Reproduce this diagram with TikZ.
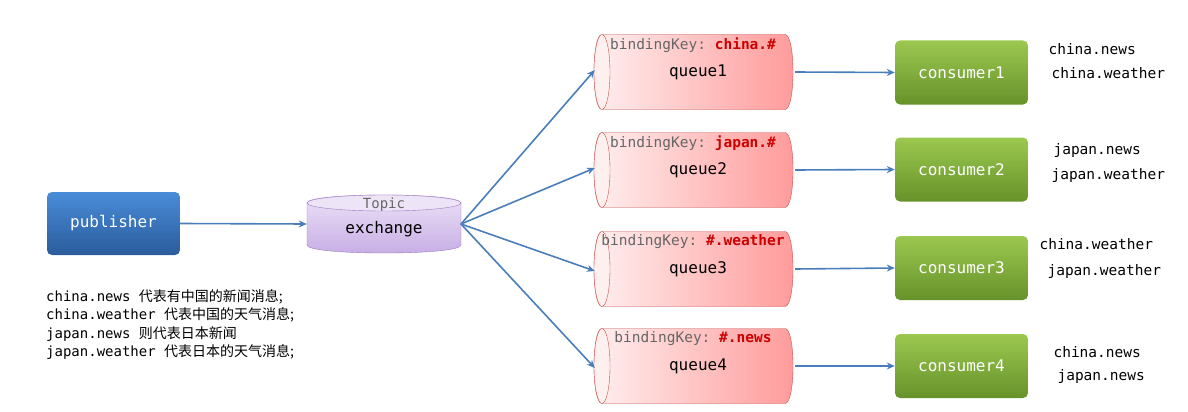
\documentclass[tikz,border=0pt]{standalone}
\usepackage{fontspec}
\setmonofont{DejaVu Sans Mono}
\newfontfamily\cjk{Noto Sans CJK SC}
\usetikzlibrary{arrows.meta}
\definecolor{qborder}{HTML}{C85050}
\definecolor{arr}{HTML}{4A7EBB}
\definecolor{keyred}{HTML}{CC0000}
\definecolor{qL}{HTML}{FFF0F0}
\definecolor{qR}{HTML}{FF9A9A}
\definecolor{gT}{HTML}{9CC850}
\definecolor{gB}{HTML}{66922A}
\definecolor{bT}{HTML}{4A8CD8}
\definecolor{bB}{HTML}{2A5C9C}
\definecolor{pT}{HTML}{EEE4F8}
\definecolor{pB}{HTML}{C6ACE4}
\definecolor{pD}{HTML}{9A7CC0}
\tikzset{
  qbox/.style={rectangle, minimum width=199pt, minimum height=75pt, inner sep=0pt},
  consumer/.style={rectangle, rounded corners=5pt, top color=gT, bottom color=gB,
    minimum width=133pt, minimum height=64pt, text=white, font=\ttfamily\fontsize{16}{18}\selectfont},
  key/.style={font=\ttfamily\fontsize{14.5}{16}\selectfont, text=black!60},
  lbl/.style={font=\ttfamily\fontsize{14.5}{16}\selectfont, anchor=west},
  link/.style={draw=arr, line width=1.6pt, -{Stealth[length=8pt,width=7pt]}},
}
\begin{document}
\begin{tikzpicture}[x=1pt,y=-1pt]
\useasboundingbox (0,0) rectangle (1188,412);
\node[rectangle, rounded corners=5pt, top color=bT, bottom color=bB,
  minimum width=133pt, minimum height=63pt, text=white, font=\ttfamily\fontsize{16}{18}\selectfont] (pub) at (113.5,223.5) {publisher};
% exchange cylinder
\node[rectangle, minimum width=154pt, minimum height=58pt, inner sep=0pt] (ex) at (384,224) {};
\path[top color=pT, bottom color=pB, draw=pD]
  (307,203) -- (307,245) .. controls (307,255.7) and (461,255.7) .. (461,245) -- (461,203)
  .. controls (461,192.3) and (307,192.3) .. cycle;
\draw[pD, fill=pT] (384,203) ellipse (77pt and 8pt);
\node[font=\ttfamily\fontsize{14}{16}\selectfont, text=black!60] (topic) at (384,205) {Topic};
\node[font=\ttfamily\fontsize{16}{18}\selectfont] (exl) at (384,229) {exchange};

\foreach \i/\y/\k in {1/72/china.\#, 2/170/japan.\#, 3/269/\#.weather, 4/366/\#.news}{
  \node[qbox] (q\i) at (693.5,\y) {};
  \path[left color=qL, right color=qR, draw=qborder]
    (602,\y-37.5) -- (785,\y-37.5) .. controls (795.7,\y-37.5) and (795.7,\y+37.5) .. (785,\y+37.5)
    -- (602,\y+37.5) .. controls (591.3,\y+37.5) and (591.3,\y-37.5) .. cycle;
  \draw[qborder, fill=qL] (602,\y) ellipse (8pt and 37.5pt);
  \node[font=\ttfamily\fontsize{16}{18}\selectfont] (ql\i) at (698,\y) {queue\i};
  \node[key, anchor=north] (k\i) at (693,\y-38) {bindingKey: \textcolor{keyred}{\textbf{\k}}};
}
\node[consumer] (c1) at (961.5,72.5) {consumer1};
\node[consumer] (c2) at (961.5,169.5) {consumer2};
\node[consumer] (c3) at (961.5,268) {consumer3};
\node[consumer] (c4) at (961.5,366) {consumer4};

\draw[link] (pub.east) -- (ex.west);
\coordinate (exo) at (461,224);
\draw[link] (exo) -- ([xshift=1pt,yshift=2pt]q1.west);
\draw[link] (exo) -- ([xshift=1pt,yshift=2pt]q2.west);
\draw[link] (exo) -- ([xshift=1pt,yshift=-2pt]q3.west);
\draw[link] (exo) -- ([xshift=1pt,yshift=-2pt]q4.west);
\foreach \i in {1,2,3,4}{\draw[link] ([xshift=2pt]q\i.east) -- (c\i.west);}

\node[lbl] (l1a) at (1045,49) {china.news};
\node[lbl] (l1b) at (1048,73) {china.weather};
\node[lbl] (l2a) at (1050,150) {japan.news};
\node[lbl] (l2b) at (1048,175) {japan.weather};
\node[lbl] (l3a) at (1036,244) {china.weather};
\node[lbl] (l3b) at (1044,271) {japan.weather};
\node[lbl] (l4a) at (1050,352) {china.news};
\node[lbl] (l4b) at (1054,376) {japan.news};

\node[anchor=north west, align=left, inner sep=0pt, font=\ttfamily\fontsize{14}{18.5}\selectfont] (note) at (46,289)
{china.news {\cjk 代表有中国的新闻消息;}\\
china.weather {\cjk 代表中国的天气消息;}\\
japan.news {\cjk 则代表日本新闻}\\
japan.weather {\cjk 代表日本的天气消息;}};
\end{tikzpicture}
\end{document}
